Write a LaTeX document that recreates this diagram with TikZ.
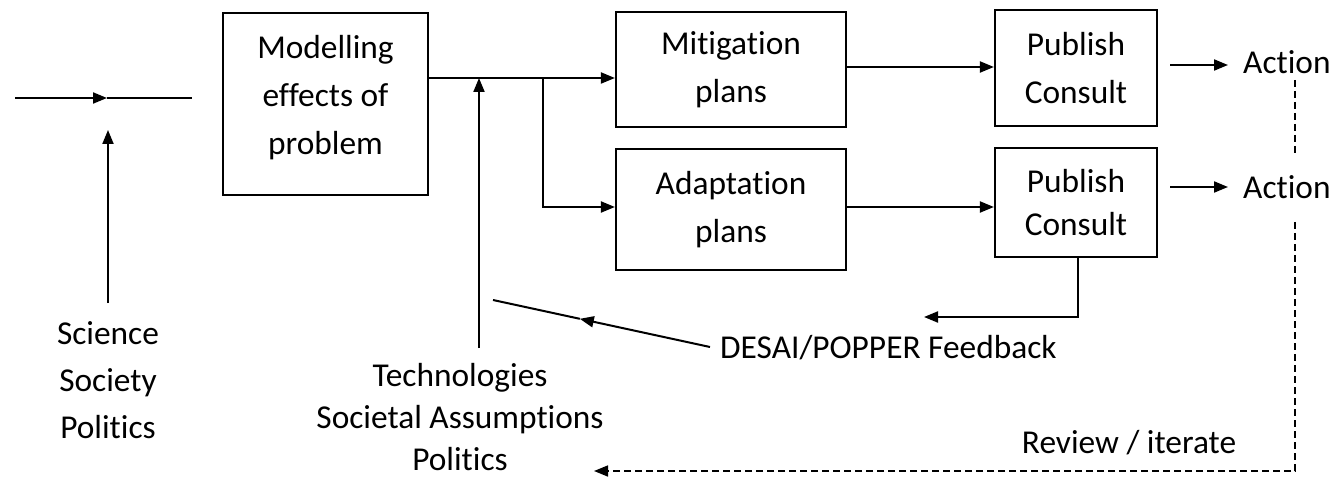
\documentclass[tikz,border=0pt]{standalone}
\usepackage{fontspec}
\setmainfont{Carlito}[Ligatures={NoCommon}]
\usetikzlibrary{arrows.meta,calc}
\newcommand\fsa{\fontsize{33.5}{48}\selectfont}
\newcommand\fsb{\fontsize{33.5}{47}\selectfont}
\newcommand\fsc{\fontsize{33.5}{42}\selectfont}
\begin{document}
\begin{tikzpicture}[x=1bp,y=-1bp,
  box/.style={draw,line width=2.2bp,align=center,inner sep=0pt,font=\fsa},
  lbl/.style={align=center,inner sep=0pt,font=\fsa},
  tip/.style={-{Triangle[length=14bp,width=11bp]}},
  arr/.style={line width=2bp,tip},
  ln/.style={line width=2bp},
  dsh/.style={line width=1.6bp,dash pattern=on 7bp off 4bp}]
\useasboundingbox (0,0) rectangle (1336,478);
% boxes
\node[box,minimum width=205bp,minimum height=182bp] (mod) at (325.5,104) {Modelling\\effects of\\problem\\[-30bp]\mbox{}};
\node[box,minimum width=230bp,minimum height=115bp] (mit) at (731,69.5) {Mitigation\\plans};
\node[box,minimum width=230bp,minimum height=121bp] (adp) at (731,209.5) {Adaptation\\plans};
\node[box,minimum width=162bp,minimum height=116bp] (pub1) at (1076,68) {Publish\\Consult};
\node[box,minimum width=162bp,minimum height=109bp] (pub2) at (1076,202.5) {Publish\\[-5bp]Consult};
% labels
\node[lbl,anchor=west] (act1) at (1243,62) {Action};
\node[lbl,anchor=west] (act2) at (1243,187) {Action};
\node[lbl,font=\fsb] (sci) at (108,380) {Science\\Society\\Politics};
\node[lbl,font=\fsc] (tech) at (460,417) {Technologies\\Societal Assumptions\\Politics};
\node[lbl,anchor=west] (desai) at (720,348) {DESAI/POPPER Feedback};
\node[lbl] (rev) at (1129,443) {Review / iterate};
% coordinates
\coordinate (inL) at (15,98);
\coordinate (inM) at (107,98);
\coordinate (inR) at (192,98);
\coordinate (sciT) at (108,130);
\coordinate (sciB) at (108,303);
\coordinate (y78) at (0,78);
\coordinate (y67) at (0,67);
\coordinate (y207) at (0,207);
\coordinate (j) at (543,78);
\coordinate (techT) at (479,78);
\coordinate (techB) at (479,348);
\coordinate (a1s) at (1170,65);
\coordinate (a2s) at (1170,187);
\coordinate (d1t) at (1295,80);
\coordinate (d1b) at (1295,157);
\coordinate (d2t) at (1295,222);
\coordinate (revEnd) at (594,471);
\coordinate (fbc) at (1078,317);
\coordinate (fbe) at (924,317);
\coordinate (fbR) at (710,347);
\coordinate (fbL) at (493,300);
% connectors
\draw[arr] (inL) -- (inM);
\draw[ln] (inM) -- (inR);
\draw[arr] (sciB) -- (sciT);
\draw[arr] (mod.east |- y78) -- (mit.west |- y78);
\draw[arr] (techB) -- (techT);
\draw[arr] (j) |- (adp.west |- y207);
\draw[arr] (mit.east |- y67) -- (pub1.west |- y67);
\draw[arr] (adp.east |- y207) -- (pub2.west |- y207);
\draw[arr] (a1s) -- ([xshift=-15bp]act1.west |- a1s);
\draw[arr] (a2s) -- ([xshift=-15bp]act2.west |- a2s);
\draw[dsh] (d1t) -- (d1b);
\draw[dsh,tip] (d2t) |- (revEnd);
\draw[arr] (pub2.south -| fbc) -- (fbc) -- (fbe);
\draw[arr] (fbR) -- ($(fbR)!0.6!(fbL)$);
\draw[ln] ($(fbR)!0.6!(fbL)$) -- (fbL);
\end{tikzpicture}
\end{document}
